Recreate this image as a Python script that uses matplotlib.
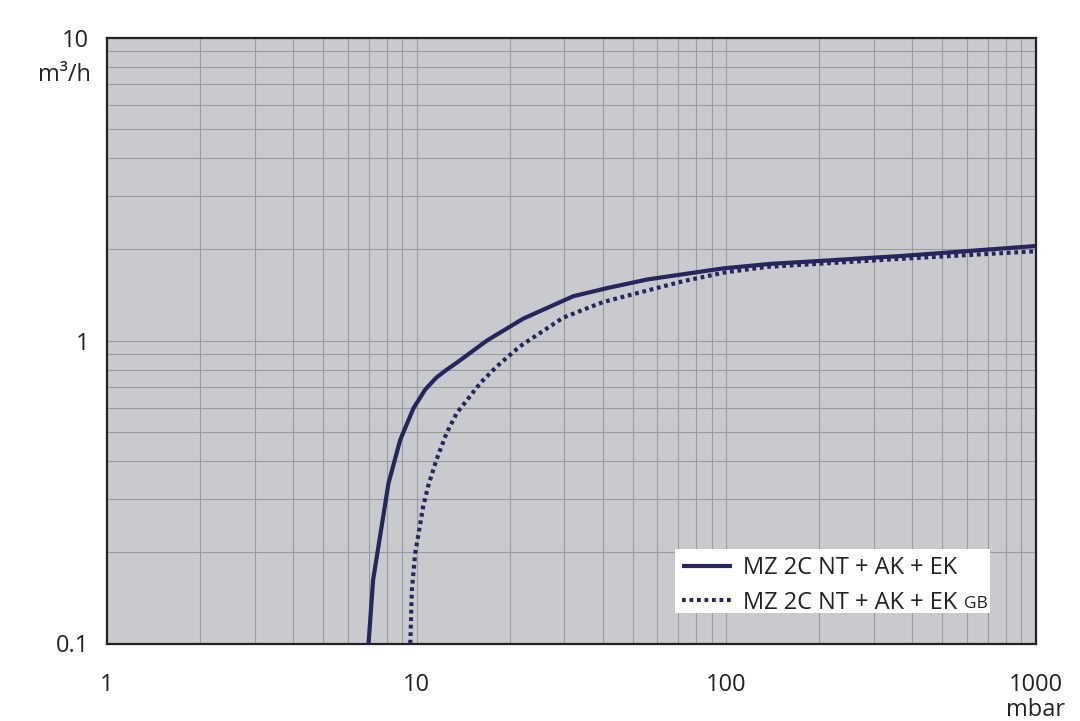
import matplotlib
matplotlib.use("Agg")
import matplotlib.pyplot as plt
from matplotlib.patches import Rectangle
from matplotlib.ticker import LogLocator, FixedLocator, NullFormatter

plt.rcParams['font.family'] = ['Open Sans', 'DejaVu Sans']

# Data (pressure in mbar, pumping speed in m3/h)
p_solid = [7.0, 7.24, 8.12, 8.86, 9.78, 10.67, 11.6, 12.5, 13.5, 16.9, 22.1, 32.1, 41.4, 55.7, 98, 139, 200, 366, 1000]
s_solid = [0.1, 0.162, 0.338, 0.47, 0.598, 0.689, 0.755, 0.80, 0.845, 1.0, 1.18, 1.40, 1.49, 1.59, 1.73, 1.79, 1.83, 1.90, 2.05]

p_dot = [9.55, 9.66, 9.9, 10.5, 10.9, 11.6, 12.5, 13.5, 14.6, 16.1, 18.2, 21.6, 29.8, 40.1, 54, 72.8, 100, 136, 366, 1000]
s_dot = [0.1, 0.150, 0.198, 0.282, 0.330, 0.404, 0.494, 0.577, 0.638, 0.725, 0.822, 0.957, 1.19, 1.34, 1.45, 1.57, 1.68, 1.75, 1.86, 1.97]

label_solid = "MZ 2C NT + AK + EK"
label_dot = "MZ 2C NT + AK + EK"
label_dot_suffix = "GB"

x_ticks = [1, 10, 100, 1000]
x_ticklabels = ["1", "10", "100", "1000"]
y_ticks = [0.1, 1, 10]
y_ticklabels = ["0.1", "1", "10"]
x_unit = "mbar"
y_unit = "m³/h"

line_color = "#25265e"
bg_color = "#c9cacd"
grid_color = "#9a9b9e"
text_color = "#222222"

W, H = 1080, 721
ax_l, ax_r, ax_t, ax_b = 107, 1035.5, 37.5, 643.5

fig = plt.figure(figsize=(10.8, 7.21), dpi=100)
ax = fig.add_axes([ax_l/W, 1 - ax_b/H, (ax_r - ax_l)/W, (ax_b - ax_t)/H])
ax.set_facecolor(bg_color)
ax.set_xscale('log')
ax.set_yscale('log')
ax.set_xlim(1, 1000)
ax.set_ylim(0.1, 10)

ax.xaxis.set_major_locator(FixedLocator(x_ticks))
ax.yaxis.set_major_locator(FixedLocator(y_ticks))
ax.set_xticklabels(x_ticklabels)
ax.set_yticklabels(y_ticklabels)
ax.xaxis.set_minor_locator(LogLocator(base=10, subs=range(2, 10)))
ax.yaxis.set_minor_locator(LogLocator(base=10, subs=range(2, 10)))
ax.xaxis.set_minor_formatter(NullFormatter())
ax.yaxis.set_minor_formatter(NullFormatter())
ax.grid(True, which='both', color=grid_color, linewidth=0.8)
ax.set_axisbelow(True)
ax.tick_params(which='both', length=0, labelsize=17, colors=text_color)
ax.tick_params(axis='x', pad=21)
ax.tick_params(axis='y', pad=13)
for s in ax.spines.values():
    s.set_color(text_color)
    s.set_linewidth(1.6)

l1, = ax.plot(p_solid, s_solid, color=line_color, linewidth=3.0, solid_capstyle='butt',
              solid_joinstyle='round', label=label_solid, zorder=3)
l2, = ax.plot(p_dot, s_dot, color=line_color, linewidth=3.0, linestyle=(0, (0.9, 0.9)),
              dash_capstyle='butt', label=label_dot, zorder=3)

# white legend box (x 675..990, y 549..613 px)
box_x0, box_x1, box_y0, box_y1 = 675, 990, 549, 613
rect = Rectangle(((box_x0 - ax_l) / (ax_r - ax_l), (ax_b - box_y1) / (ax_b - ax_t)),
                 (box_x1 - box_x0) / (ax_r - ax_l), (box_y1 - box_y0) / (ax_b - ax_t),
                 transform=ax.transAxes, facecolor='white', edgecolor='none', zorder=4)
ax.add_patch(rect)

leg_x = (675 - ax_l) / (ax_r - ax_l)
leg_y = (ax_b - 549) / (ax_b - ax_t)
leg = ax.legend(loc='upper left', bbox_to_anchor=(leg_x, leg_y), frameon=False,
                fontsize=17, handlelength=2.1, handletextpad=0.5, borderpad=0.3,
                borderaxespad=0, labelspacing=0.45)
leg.set_zorder(5)
for t in leg.get_texts():
    t.set_color(text_color)

fig.text(91/W, 1 - 75/H, y_unit, ha='right', va='center', fontsize=17, color=text_color)
fig.text(1036/W, 1 - 710/H, x_unit, ha='center', va='center', fontsize=17, color=text_color)

# small "GB" suffix after second legend label
fig.canvas.draw()
rend = fig.canvas.get_renderer()
bb = leg.get_texts()[1].get_window_extent(rend)
fig.text((bb.x1 + 6) / W, (bb.y0 + 0.26 * bb.height) / H, label_dot_suffix,
         ha='left', va='baseline', fontsize=12.5, color=text_color, zorder=10)

fig.savefig("out.png", dpi=100)
